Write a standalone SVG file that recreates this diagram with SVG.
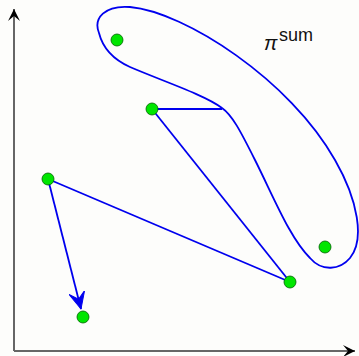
<svg xmlns="http://www.w3.org/2000/svg" width="359" height="356" viewBox="0 0 359 356">
<style>
.node{fill:#00e600;stroke:#006000;stroke-width:0.8}
.edge{fill:none;stroke:#0000ee;stroke-width:1.8}
.axis{fill:none;stroke:#666;stroke-width:2}
.lbl{font-family:"Liberation Sans",Arial,sans-serif;fill:#111}
</style>
<defs>
<marker id="ax" markerWidth="14" markerHeight="12" refX="12" refY="6" orient="auto" markerUnits="userSpaceOnUse">
<path d="M0,0 L12,6 L0,12 L5,6 Z" fill="#000"/>
</marker>
<marker id="arr" markerWidth="20" markerHeight="18" refX="17" refY="8" orient="auto" markerUnits="userSpaceOnUse">
<path d="M0,0 L17,8 L0,16 L7,8 Z" fill="#0000ee" stroke="#0000ee" stroke-width="1" stroke-linejoin="round"/>
</marker>
</defs>
<rect width="359" height="356" fill="#fdfdfb"/>
<g id="axes">
<line class="axis" x1="14" y1="351" x2="14" y2="9" marker-end="url(#ax)"/>
<line class="axis" x1="14" y1="351" x2="355" y2="351" marker-end="url(#ax)"/>
</g>
<g id="connectors">
<path id="blob" class="edge" d="M99,33 C93,18 105,5 130,7 C185,12 290,80 335,160 C358,200 365,240 350,258 C340,270 322,272 310,258 C290,238 275,200 255,160 C240,130 232,115 222,108 C205,95 160,80 130,67 C110,58 102,45 99,33 Z"/>
<line class="edge" x1="152" y1="109" x2="222" y2="109"/>
<line class="edge" x1="152" y1="109" x2="290" y2="282"/>
<line class="edge" x1="48" y1="179" x2="290" y2="282"/>
<line class="edge" x1="48" y1="179" x2="81" y2="309" marker-end="url(#arr)"/>
</g>
<g id="n1"><circle class="node" cx="117" cy="40" r="6"/></g>
<g id="n2"><circle class="node" cx="152" cy="109" r="6"/></g>
<g id="n3"><circle class="node" cx="48" cy="179" r="6"/></g>
<g id="n4"><circle class="node" cx="290" cy="282" r="6"/></g>
<g id="n5"><circle class="node" cx="325" cy="247" r="6"/></g>
<g id="n6"><circle class="node" cx="83" cy="317" r="6"/></g>
<g id="label">
<text class="lbl" x="264" y="50" font-size="20" font-family="'DejaVu Serif',serif" font-style="italic">π</text>
<text class="lbl" x="279" y="41" font-size="18">sum</text>
</g>
</svg>
